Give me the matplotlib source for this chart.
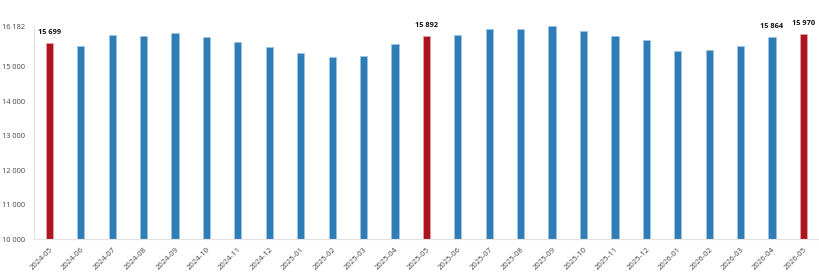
import matplotlib.pyplot as plt
import numpy as np

plt.rcParams["font.family"] = "Open Sans"

months = ['2024-05', '2024-06', '2024-07', '2024-08', '2024-09', '2024-10', '2024-11', '2024-12',
          '2025-01', '2025-02', '2025-03', '2025-04', '2025-05', '2025-06', '2025-07', '2025-08',
          '2025-09', '2025-10', '2025-11', '2025-12', '2026-01', '2026-02', '2026-03', '2026-04',
          '2026-05']
values = [15699, 15605, 15915, 15905, 15995, 15858, 15733, 15588,
          15413, 15297, 15315, 15665, 15892, 15936, 16110, 16091,
          16178, 16041, 15908, 15780, 15451, 15499, 15605, 15864,
          15970]
highlight = ['2024-05', '2025-05', '2026-05']
labelled = ['2024-05', '2025-05', '2026-04', '2026-05']
yticks = [10000, 11000, 12000, 13000, 14000, 15000, 16182]

blue = '#2f7db7'
red = '#ab1520'

x = np.arange(len(months))
colors = [red if m in highlight else blue for m in months]
edges = ['#e8a0a4' if m in highlight else '#9cc3e2' for m in months]

fig = plt.figure(figsize=(8.2, 2.76), dpi=100)
ax = fig.add_axes([0.041, 0.134, 0.958, 0.771])
ax.bar(x, values, width=0.23, color=colors, edgecolor=edges, linewidth=0.6, bottom=0)

for i, m in enumerate(months):
    if m in labelled:
        ax.annotate('{:,}'.format(values[i]).replace(',', ' '), (x[i], values[i]),
                    xytext=(0, 5), textcoords='offset points', ha='center', va='bottom',
                    fontsize=5.3, fontweight='bold', color='#111111')

ax.set_ylim(10000, 16182)
ax.set_xlim(-0.5, len(months) - 0.5)
ax.set_yticks(yticks)
ax.set_yticklabels(['{:,}'.format(t).replace(',', ' ') for t in yticks])
ax.set_xticks(x)
ax.set_xticklabels(months, rotation=45, ha='right', rotation_mode='anchor')
ax.tick_params(axis='both', length=0, labelcolor='#444444')
ax.tick_params(axis='y', pad=6, labelsize=5.3)
ax.tick_params(axis='x', pad=5, labelsize=5.6)

for s in ['top', 'right']:
    ax.spines[s].set_visible(False)
ax.spines['left'].set_color('#e2e2e2')
ax.spines['bottom'].set_color('#e2e2e2')
ax.spines['left'].set_linewidth(0.8)
ax.spines['bottom'].set_linewidth(0.8)

fig.savefig('out.png', dpi=100)
